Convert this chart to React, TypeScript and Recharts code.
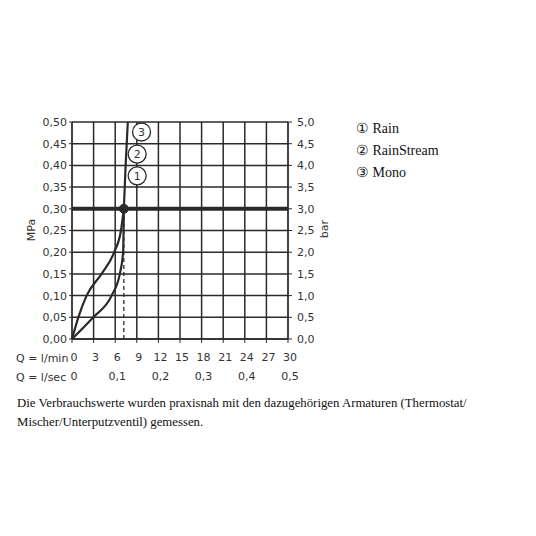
import {
  ComposedChart,
  Line,
  XAxis,
  YAxis,
  CartesianGrid,
  ReferenceLine,
  ReferenceDot,
  Customized,
} from "recharts";

// flow in l/min, pressure in MPa
const flowTicks = [0, 3, 6, 9, 12, 15, 18, 21, 24, 27, 30];
const secTicks = [0, 6, 12, 18, 24, 30];
const mpaTicks = [0, 0.05, 0.1, 0.15, 0.2, 0.25, 0.3, 0.35, 0.4, 0.45, 0.5];
const barTicks = [0, 0.5, 1, 1.5, 2, 2.5, 3, 3.5, 4, 4.5, 5];

const upperCurve = [
  { q: 0, p: 0 },
  { q: 0.88, p: 0.05 },
  { q: 2.03, p: 0.1 },
  { q: 4.1, p: 0.15 },
  { q: 5.86, p: 0.2 },
  { q: 6.8, p: 0.25 },
  { q: 7.2, p: 0.3 },
];
const lowerCurve = [
  { q: 0, p: 0 },
  { q: 2.95, p: 0.05 },
  { q: 5.5, p: 0.1 },
  { q: 6.64, p: 0.15 },
  { q: 7.1, p: 0.2 },
  { q: 7.16, p: 0.25 },
  { q: 7.2, p: 0.3 },
];
const topCurve = [
  { q: 7.2, p: 0.3 },
  { q: 7.45, p: 0.4 },
  { q: 7.75, p: 0.5 },
];

const operatingPoint = { q: 7.2, p: 0.3 };
const markers = [
  { id: "1", q: 9.05, p: 0.376 },
  { id: "2", q: 9.05, p: 0.426 },
  { id: "3", q: 9.66, p: 0.477 },
];
const legend = ["① Rain", "② RainStream", "③ Mono"];

// same curve in bar, only to give the secondary axes a series
const upperCurveBar = upperCurve.map((d) => ({ q: d.q, bar: d.p * 10 }));

const ink = "#2a2a2a";
const axisFont = { fontFamily: "DejaVu Sans", fontSize: 11, fill: "#333" };
const comma = (v: number, d: number) => v.toFixed(d).replace(".", ",");

function Captions() {
  return (
    <g style={{ fontFamily: "DejaVu Sans", fontSize: 11, fill: "#333" }}>
      <text x={31} y={230} textAnchor="middle" dominantBaseline="central" transform="rotate(-90 31 230)">
        MPa
      </text>
      <text x={324} y={229} textAnchor="middle" dominantBaseline="central" transform="rotate(-90 324 229)">
        bar
      </text>
      <text x={16} y={362}>Q = l/min</text>
      <text x={16} y={381}>Q = l/sec</text>
    </g>
  );
}

export default function App() {
  return (
    <div style={{ position: "absolute", left: 0, top: 0, width: 536, height: 536, background: "#fff" }}>
      <ComposedChart
        width={536}
        height={536}
        margin={{ top: 122, right: 208, bottom: 159, left: 15 }}
      >
        <CartesianGrid stroke={ink} strokeWidth={1.5} />
        <XAxis
          type="number"
          dataKey="q"
          domain={[0, 30]}
          ticks={flowTicks}
          interval={0}
          height={19}
          tick={{ ...axisFont, dx: 2 }}
          tickSize={4}
          tickMargin={10}
          stroke={ink}
          axisLine={{ stroke: ink, strokeWidth: 1.5 }}
          tickFormatter={(v: number) => String(v)}
        />
        <XAxis
          xAxisId="sec"
          type="number"
          dataKey="q"
          domain={[0, 30]}
          ticks={secTicks}
          interval={0}
          height={19}
          tick={{ ...axisFont, dx: 2 }}
          tickSize={0}
          tickMargin={14}
          axisLine={false}
          tickLine={false}
          tickFormatter={(v: number) => (v === 0 ? "0" : comma(v / 60, 1))}
        />
        <YAxis
          type="number"
          domain={[0, 0.5]}
          ticks={mpaTicks}
          interval={0}
          width={57}
          tick={axisFont}
          tickSize={3}
          tickMargin={2}
          stroke={ink}
          tickFormatter={(v: number) => comma(v, 2)}
        />
        <YAxis
          yAxisId="bar"
          orientation="right"
          type="number"
          domain={[0, 5]}
          ticks={barTicks}
          interval={0}
          width={40}
          tick={axisFont}
          tickSize={4}
          tickMargin={5}
          stroke={ink}
          tickFormatter={(v: number) => comma(v, 1)}
        />
        <ReferenceLine y={0.3} stroke={ink} strokeWidth={4} />
        <ReferenceLine
          segment={[
            { x: operatingPoint.q, y: 0 },
            { x: operatingPoint.q, y: operatingPoint.p },
          ]}
          stroke={ink}
          strokeWidth={1.3}
          strokeDasharray="4 3"
        />
        <Line
          xAxisId="sec"
          yAxisId="bar"
          data={upperCurveBar}
          dataKey="bar"
          type="monotone"
          stroke="none"
          dot={false}
          activeDot={false}
          isAnimationActive={false}
        />
        <Line data={upperCurve} dataKey="p" type="monotone" stroke={ink} strokeWidth={2.2} dot={false} isAnimationActive={false} />
        <Line data={lowerCurve} dataKey="p" type="monotone" stroke={ink} strokeWidth={2.2} dot={false} isAnimationActive={false} />
        <Line data={topCurve} dataKey="p" type="monotone" stroke={ink} strokeWidth={2.2} dot={false} isAnimationActive={false} />
        <ReferenceDot x={operatingPoint.q} y={operatingPoint.p} r={4.5} fill={ink} stroke={ink} />
        {markers.map((m) => (
          <ReferenceDot
            key={m.id}
            x={m.q}
            y={m.p}
            r={9}
            fill="#fff"
            stroke={ink}
            strokeWidth={1.3}
            label={{ value: m.id, position: "center", fill: "#333", fontFamily: "DejaVu Sans", fontSize: 11 }}
          />
        ))}
        <Customized component={Captions} />
      </ComposedChart>
      <div
        style={{
          position: "absolute",
          left: 356,
          top: 118,
          fontFamily: "Liberation Serif",
          fontSize: 14,
          color: "#111",
          lineHeight: "22px",
        }}
      >
        {legend.map((t) => (
          <div key={t}>{t}</div>
        ))}
      </div>
      <div
        style={{
          position: "absolute",
          left: 17,
          top: 394,
          width: 510,
          fontFamily: "Liberation Serif",
          fontSize: 12.8,
          color: "#111",
          lineHeight: "19px",
        }}
      >
        Die Verbrauchswerte wurden praxisnah mit den dazugehörigen Armaturen (Thermostat/
        <br />
        Mischer/Unterputzventil) gemessen.
      </div>
    </div>
  );
}
